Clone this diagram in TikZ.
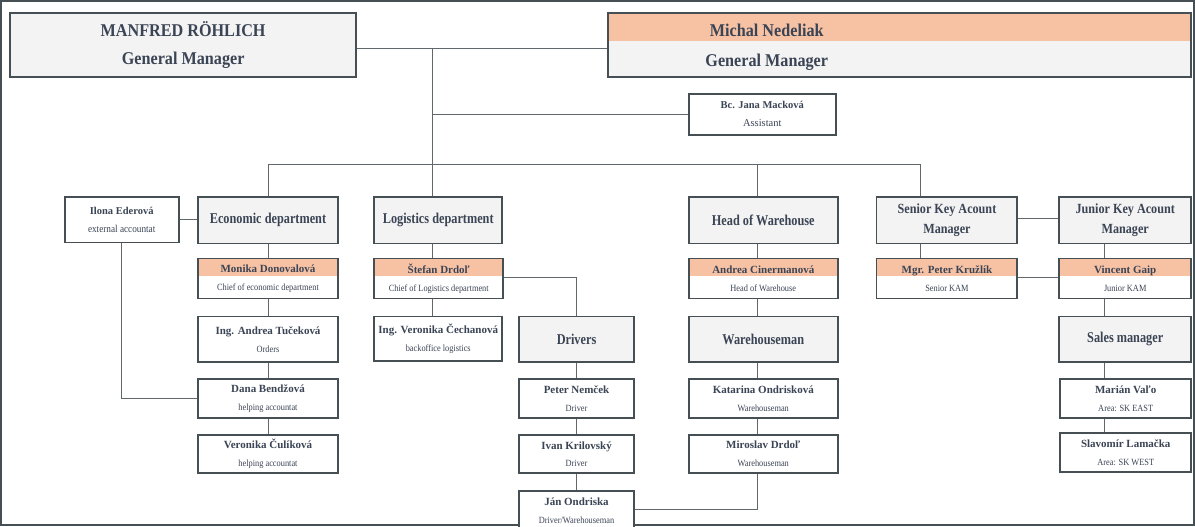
\documentclass[tikz,border=0pt]{standalone}
\usepackage{fontspec}
\setmainfont{Liberation Serif}
\newfontfamily\condf[FakeStretch=0.82]{Liberation Serif}
\newfontfamily\topf[FakeStretch=0.9]{Liberation Serif}
\newfontfamily\kamf[FakeStretch=0.87]{Liberation Serif}
\newfontfamily\subf[FakeStretch=0.88]{Liberation Serif}
\usetikzlibrary{calc}
\definecolor{boxline}{RGB}{70,80,84}
\definecolor{textc}{RGB}{58,68,84}
\definecolor{linec}{RGB}{96,104,108}
\definecolor{fillg}{RGB}{243,243,243}
\definecolor{band}{RGB}{247,194,164}
\newcommand\bx[7]{\node[#1, minimum width={#5-#3}, minimum height={#6-#4}] (#2) at ({(#3+#5)/2},{(#4+#6)/2}) {#7};}
\newcommand\pname[1]{{\bfseries\fontsize{11}{18}\selectfont #1}}
\newcommand\subt[1]{{\subf\fontsize{9.5}{18}\selectfont #1}}
\begin{document}
\begin{tikzpicture}[x=1pt,y=-1pt,
  basebox/.style={draw=boxline, line width=1.8pt, inner sep=0pt, align=center, text=textc, font=\fontsize{11}{18}\selectfont},
  grey/.style={basebox, fill=fillg},
  white/.style={basebox, fill=white},
  chief/.style={basebox, fill=white, path picture={\fill[band] (path picture bounding box.north west) rectangle ($(path picture bounding box.north east)!0.45!(path picture bounding box.south east)$);}},
  dept/.style={font=\condf\bfseries\fontsize{15}{20}\selectfont},
  kam/.style={font=\kamf\bfseries\fontsize{14}{20}\selectfont},
  toptext/.style={align=center, text=textc, inner sep=0pt, font=\topf\bfseries\fontsize{18}{30}\selectfont},
  link/.style={draw=linec, line width=1pt}]
\fill[white] (0,0) rectangle (1195,525);
\useasboundingbox (0,0) rectangle (1195,525);
% top
\bx{grey, toptext, draw=boxline, line width=1.8pt}{man}{9}{12}{356}{76}{\raisebox{-2pt}{MANFRED RÖHLICH}\\General Manager}
\bx{chief, path picture={\fill[fillg] (path picture bounding box.south west) rectangle (path picture bounding box.north east); \fill[band] (path picture bounding box.north west) rectangle ($(path picture bounding box.north east)!0.44!(path picture bounding box.south east)$);}}{mich}{608}{12}{1192}{76}{}
\node[toptext] (michtxt) at (767,46) {Michal Nedeliak\\General Manager};
\bx{white}{asst}{689}{93}{836}{134}{{\bfseries\fontsize{10.5}{18}\selectfont Bc. Jana Macková}\\{\fontsize{10.5}{18}\selectfont Assistant}}
% row 2
\bx{white}{ilona}{64}{196}{178}{242}{{\bfseries\fontsize{10.5}{15}\selectfont Ilona Ederová}\\{\subf\fontsize{10.5}{15}\selectfont external accountat}}
\bx{grey, dept}{econ}{197}{196}{338}{243}{Economic department}
\bx{grey, dept}{logi}{374}{196}{502}{243}{Logistics department}
\bx{grey, dept}{how}{689}{196}{838}{243}{Head of Warehouse}
\bx{grey, kam}{skam}{877}{196}{1018}{243}{Senior Key Acount\\Manager}
\bx{grey, kam}{jkam}{1060}{196}{1192}{243}{Junior Key Acount\\Manager}
% row 3
\bx{chief}{monika}{197}{258}{338}{298}{\pname{Monika Donovalová}\\\subt{Chief of economic department}}
\bx{chief}{stefan}{374}{258}{503}{298}{\pname{Štefan Drdoľ}\\\subt{Chief of Logistics department}}
\bx{chief}{andreac}{689}{258}{838}{298}{\pname{Andrea Cinermanová}\\\subt{Head of Warehouse}}
\bx{chief}{peterk}{877}{258}{1018}{298}{\pname{Mgr. Peter Kružlík}\\\subt{Senior KAM}}
\bx{chief}{vincent}{1060}{258}{1192}{298}{\pname{Vincent Gaip}\\\subt{Junior KAM}}
% row 4
\bx{white}{andreat}{197}{316}{338}{362}{\pname{Ing. Andrea Tučeková}\\\subt{Orders}}
\bx{white}{veronikac}{374}{316}{502}{361}{\pname{Ing. Veronika Čechanová}\\\subt{backoffice logistics}}
\bx{grey, dept}{drivers}{519}{316}{634}{362}{Drivers}
\bx{grey, dept}{wman}{689}{316}{838}{362}{Warehouseman}
\bx{grey, dept}{sales}{1060}{316}{1192}{362}{Sales manager}
% row 5
\bx{white}{dana}{197}{379}{338}{418}{\pname{Dana Bendžová}\\\subt{helping accountat}}
\bx{white}{petern}{519}{379}{634}{418}{\pname{Peter Nemček}\\\subt{Driver}}
\bx{white}{katarina}{689}{379}{838}{418}{\pname{Katarina Ondrisková}\\\subt{Warehouseman}}
\bx{white}{marian}{1061}{379}{1192}{418}{\pname{Marián Vaľo}\\\subt{Area: SK EAST}}
% row 6
\bx{white}{veronikacu}{197}{435}{338}{473}{\pname{Veronika Čulíková}\\\subt{helping accountat}}
\bx{white}{ivan}{519}{435}{634}{473}{\pname{Ivan Krilovský}\\\subt{Driver}}
\bx{white}{miroslav}{689}{435}{838}{473}{\pname{Miroslav Drdoľ}\\\subt{Warehouseman}}
\bx{white}{slavomir}{1061}{433}{1192}{472}{\pname{Slavomír Lamačka}\\\subt{Area: SK WEST}}
% row 7
\bx{white}{jan}{519}{491}{634}{531}{\pname{Ján Ondriska}\\\subt{Driver/Warehouseman}}
% column coordinates
\coordinate (j0) at (432,48);
\coordinate (busL) at (268,164);
\coordinate (busM) at (432,164);
\coordinate (busW) at (758,164);
\coordinate (busR) at (921,164);
\coordinate (xI) at (121,0);
\coordinate (xD) at (576,0);
\coordinate (xJ) at (1105,0);
\coordinate (yS) at (0,277);
\coordinate (yJ) at (0,509);
\coordinate (yK) at (0,218);
\coordinate (yIl) at (0,219);
% connectors
\draw[link] (man.east |- j0) -- (mich.west |- j0);
\draw[link] (j0) -- (busM);
\draw[link] (j0 |- asst.west) -- (asst.west);
\draw[link] (busL) -- (busR);
\draw[link] (busL) -- (busL |- econ.north);
\draw[link] (busM) -- (busM |- logi.north);
\draw[link] (busW) -- (busW |- how.north);
\draw[link] (busR) -- (busR |- skam.north);
% economic column
\draw[link] (busL |- econ.south) -- (busL |- monika.north);
\draw[link] (busL |- monika.south) -- (busL |- andreat.north);
\draw[link] (busL |- andreat.south) -- (busL |- dana.north);
\draw[link] (busL |- dana.south) -- (busL |- veronikacu.north);
\draw[link] (ilona.east |- yIl) -- (econ.west |- yIl);
\draw[link] (xI |- ilona.south) -- (xI |- dana.west) -- (dana.west);
% logistics column
\draw[link] (busM |- logi.south) -- (busM |- stefan.north);
\draw[link] (busM |- stefan.south) -- (busM |- veronikac.north);
\draw[link] (stefan.east |- yS) -- (xD |- yS) -- (xD |- drivers.north);
\draw[link] (xD |- drivers.south) -- (xD |- petern.north);
\draw[link] (xD |- petern.south) -- (xD |- ivan.north);
\draw[link] (xD |- ivan.south) -- (xD |- jan.north);
% warehouse column
\draw[link] (busW |- how.south) -- (busW |- andreac.north);
\draw[link] (busW |- andreac.south) -- (busW |- wman.north);
\draw[link] (busW |- wman.south) -- (busW |- katarina.north);
\draw[link] (busW |- katarina.south) -- (busW |- miroslav.north);
\draw[link] (jan.east |- yJ) -- (busW |- yJ) -- (busW |- miroslav.south);
% sales column
\draw[link] (busR |- skam.south) -- (busR |- peterk.north);
\draw[link] (skam.east |- yK) -- (jkam.west |- yK);
\draw[link] (peterk.east |- yS) -- (vincent.west |- yS);
\draw[link] (xJ |- jkam.south) -- (xJ |- vincent.north);
\draw[link] (xJ |- vincent.south) -- (xJ |- sales.north);
\draw[link] (xJ |- sales.south) -- (xJ |- marian.north);
\draw[link] (xJ |- marian.south) -- (xJ |- slavomir.north);
\end{tikzpicture}
\end{document}
